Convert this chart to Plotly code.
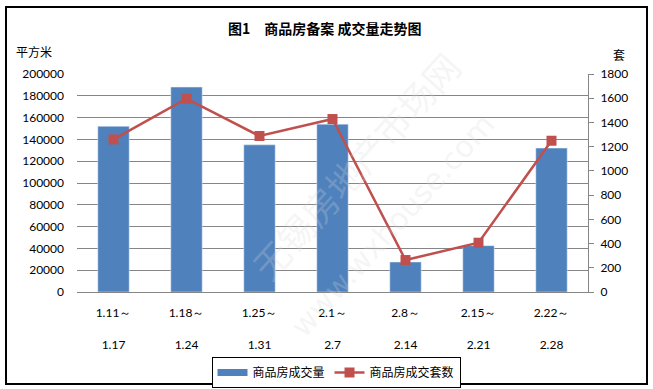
import plotly.graph_objects as go

categories = ["1.11～\n1.17", "1.18～\n1.24", "1.25～\n1.31", "2.1～\n2.7", "2.8～\n2.14", "2.15～\n2.21", "2.22～\n2.28"]
area_values = [152000, 188000, 135000, 154000, 27500, 42500, 132000]
unit_values = [1260, 1596, 1288, 1428, 264, 407, 1249]
left_ticks = list(range(0, 200001, 20000))
right_ticks = list(range(0, 1801, 200))

bar_name = "商品房成交量"
line_name = "商品房成交套数"
title_text = "图1　商品房备案 成交量走势图"

W, H = 653, 389
L, R, T, B = 77, 588, 74, 292
pw, ph = R - L, B - T

def px(x):
    return (x - L) / pw

def py(y):
    return (B - y) / ph

ticktext = [c.replace("\n", "<br> <br>") for c in categories]
xs = list(range(len(categories)))

fig = go.Figure()
fig.add_trace(go.Bar(x=xs, y=area_values, name=bar_name, marker_color="#4F81BD",
                     showlegend=False, yaxis="y"))
fig.add_trace(go.Scatter(x=[None], y=[None], mode="lines", name=bar_name,
                         line=dict(color="#4F81BD", width=7), yaxis="y"))
fig.add_trace(go.Scatter(x=xs, y=unit_values, name=line_name, mode="lines+markers",
                         line=dict(color="#C0504D", width=2.5),
                         marker=dict(symbol="square", size=10, color="#C0504D"),
                         yaxis="y2"))

tickfont = dict(family="Lato, Liberation Sans, sans-serif", size=12, color="black")
cjk = "Noto Sans CJK SC"

fig.update_layout(
    width=W, height=H,
    margin=dict(l=L, r=W - R, t=T, b=H - B, pad=0, autoexpand=False),
    paper_bgcolor="white", plot_bgcolor="white",
    bargap=0.57,
    showlegend=True,
    legend=dict(orientation="h", x=px(336), xanchor="center", y=py(357), yanchor="top",
                bordercolor="black", borderwidth=1, font=dict(family=cjk, size=12, color="black"),
                itemwidth=30, tracegroupgap=0),
    xaxis=dict(tickmode="array", tickvals=xs, ticktext=ticktext, range=[-0.5, len(xs) - 0.5],
               showgrid=False, showline=True, linecolor="#868686", linewidth=1,
               ticks="", tickfont=dict(family="Lato, Liberation Sans, sans-serif", size=12, color="black"),
               ticklabelstandoff=10, zeroline=False, fixedrange=True),
    yaxis=dict(range=[0, 200000], tickvals=left_ticks, ticktext=[str(v) for v in left_ticks],
               showgrid=True, gridcolor="#868686", gridwidth=1, zeroline=False,
               showline=False, ticks="", tickfont=tickfont, ticklabelstandoff=12),
    yaxis2=dict(range=[0, 1800], tickvals=right_ticks, ticktext=[str(v) for v in right_ticks],
                overlaying="y", side="right", showgrid=False, zeroline=False,
                showline=True, linecolor="#868686", linewidth=1,
                ticks="outside", ticklen=5, tickcolor="#868686", tickfont=tickfont,
                ticklabelstandoff=4),
)

annotations = [
    dict(text="<b>" + title_text + "</b>", x=px(324), y=py(28), xref="paper", yref="paper",
         showarrow=False, font=dict(family=cjk, size=14, color="black"), xanchor="center", yanchor="middle"),
    dict(text="平方米", x=px(14), y=py(52), xref="paper", yref="paper", showarrow=False,
         font=dict(family=cjk, size=12, color="black"), xanchor="left", yanchor="middle"),
    dict(text="套", x=px(619), y=py(54), xref="paper", yref="paper", showarrow=False,
         font=dict(family=cjk, size=12, color="black"), xanchor="center", yanchor="middle"),
    dict(text="无锡房地产市场网", x=px(355), y=py(165), xref="paper", yref="paper", showarrow=False,
         textangle=-48, font=dict(family=cjk, size=36, color="rgba(215,215,215,0.25)"),
         xanchor="center", yanchor="middle"),
    dict(text="www.wxhouse.com", x=px(392), y=py(225), xref="paper", yref="paper", showarrow=False,
         textangle=-48, font=dict(family="DejaVu Sans", size=30, color="rgba(215,215,215,0.25)"),
         xanchor="center", yanchor="middle"),
]
fig.update_layout(annotations=annotations)

fig.add_shape(type="rect", xref="paper", yref="paper",
              x0=px(6), x1=px(647), y0=py(384), y1=py(7),
              line=dict(color="black", width=2), fillcolor="rgba(0,0,0,0)", layer="above")

fig.write_html("out.html", config={"displayModeBar": False, "staticPlot": True},
               post_script=["document.body.style.margin='0';document.body.style.overflow='hidden';"])
